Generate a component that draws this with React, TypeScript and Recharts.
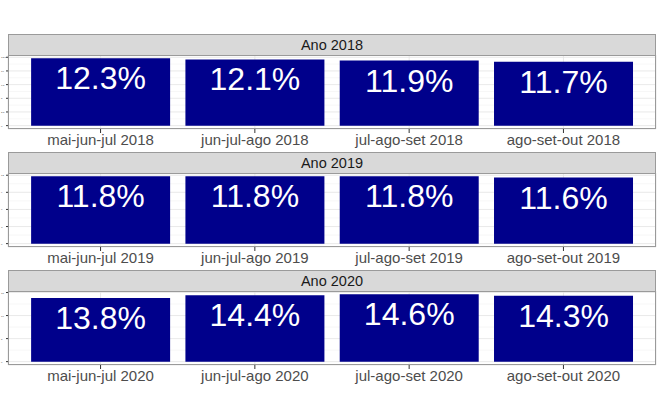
import React from "react";
import {
  BarChart,
  Bar,
  XAxis,
  YAxis,
  CartesianGrid,
  LabelList,
} from "recharts";

const years = ["2018", "2019", "2020"];
const periods = ["mai-jun-jul", "jun-jul-ago", "jul-ago-set", "ago-set-out"];
const rates2018 = [12.3, 12.1, 11.9, 11.7];
const rates2019 = [11.8, 11.8, 11.8, 11.6];
const rates2020 = [13.8, 14.4, 14.6, 14.3];
const ticks2018 = [0, 2.5, 5, 7.5, 10, 12.5];
const ticks2019 = [0, 3, 6, 9, 12];
const ticks2020 = [0, 5, 10, 15];

const FONT = "'Liberation Sans', Arial, sans-serif";
const W = 665;
const PLOT_LEFT = 8;
const PLOT_RIGHT = 656;
const PLOT_H = 74;
const STRIP_H = 21;
const AXIS_H = 26;

const panels = [
  { year: years[0], values: rates2018, ticks: ticks2018, top: 55 },
  { year: years[1], values: rates2019, ticks: ticks2019, top: 173 },
  { year: years[2], values: rates2020, ticks: ticks2020, top: 291 },
];

const BarLabel = (props: any) => {
  const { x, y, width, value } = props;
  return (
    <text
      x={x + width / 2}
      y={y + 31}
      textAnchor="middle"
      fill="#ffffff"
      fontSize={32}
      fontFamily={FONT}
    >
      {value.toFixed(1)}%
    </text>
  );
};

const TinyTick = (props: any) => {
  const { y, payload } = props;
  return (
    <text x={1} y={y + 1} textAnchor="start" fontSize={2.5} fill="#4d4d4d" fontFamily={FONT}>
      {payload.value}
    </text>
  );
};

function Panel({ year, values, ticks, top }: { year: string; values: number[]; ticks: number[]; top: number }) {
  const data = periods.map((p, i) => ({ name: `${p} ${year}`, value: values[i] }));
  const max = Math.max(...values);
  const lo = -0.05 * max;
  const hi = max * 1.05;
  const step = ticks[1] - ticks[0];
  const minor = ticks.map((t) => t + step / 2).filter((m) => m < hi);
  const plotW = PLOT_RIGHT - PLOT_LEFT;

  return (
    <>
      <div
        style={{
          position: "absolute",
          left: PLOT_LEFT,
          top: top - STRIP_H,
          width: plotW,
          height: STRIP_H,
          boxSizing: "border-box",
          background: "#d9d9d9",
          border: "1px solid #9a9a9a",
          borderBottom: "none",
          fontFamily: FONT,
          fontSize: 14.5,
          color: "#1a1a1a",
          textAlign: "center",
          lineHeight: `${STRIP_H}px`,
        }}
      >
        Ano {year}
      </div>
      <div style={{ position: "absolute", left: 0, top }}>
        <BarChart
          width={W}
          height={PLOT_H + AXIS_H}
          data={data}
          margin={{ top: 0, right: W - PLOT_RIGHT, bottom: 0, left: 0 }}
          barCategoryGap="5%"
        >
          <CartesianGrid stroke="#f2f2f2" strokeWidth={0.6} vertical={false} horizontalValues={minor} />
          <CartesianGrid stroke="#e3e3e3" strokeWidth={0.8} />
          <XAxis
            dataKey="name"
            padding={{ left: 15.4, right: 15.4 }}
            height={AXIS_H}
            tickSize={4}
            tickMargin={1}
            axisLine={false}
            tickLine={{ stroke: "#333333" }}
            tick={{ fontSize: 15, fill: "#4d4d4d", fontFamily: FONT }}
            interval={0}
          />
          <YAxis
            width={PLOT_LEFT}
            type="number"
            domain={[lo, hi]}
            allowDataOverflow
            ticks={ticks}
            interval={0}
            tickSize={2}
            axisLine={false}
            tickLine={{ stroke: "#333333" }}
            tick={<TinyTick />}
          />
          <Bar dataKey="value" fill="#00008b" isAnimationActive={false}>
            <LabelList dataKey="value" content={<BarLabel />} />
          </Bar>
        </BarChart>
      </div>
      <div
        style={{
          position: "absolute",
          left: PLOT_LEFT,
          top,
          width: plotW,
          height: PLOT_H,
          boxSizing: "border-box",
          border: "1px solid #9a9a9a",
          pointerEvents: "none",
        }}
      />
    </>
  );
}

export default function App() {
  return (
    <div style={{ position: "absolute", left: 0, top: 0, width: W, height: 397, background: "#ffffff" }}>
      {panels.map((p) => (
        <Panel key={p.year} {...p} />
      ))}
    </div>
  );
}
